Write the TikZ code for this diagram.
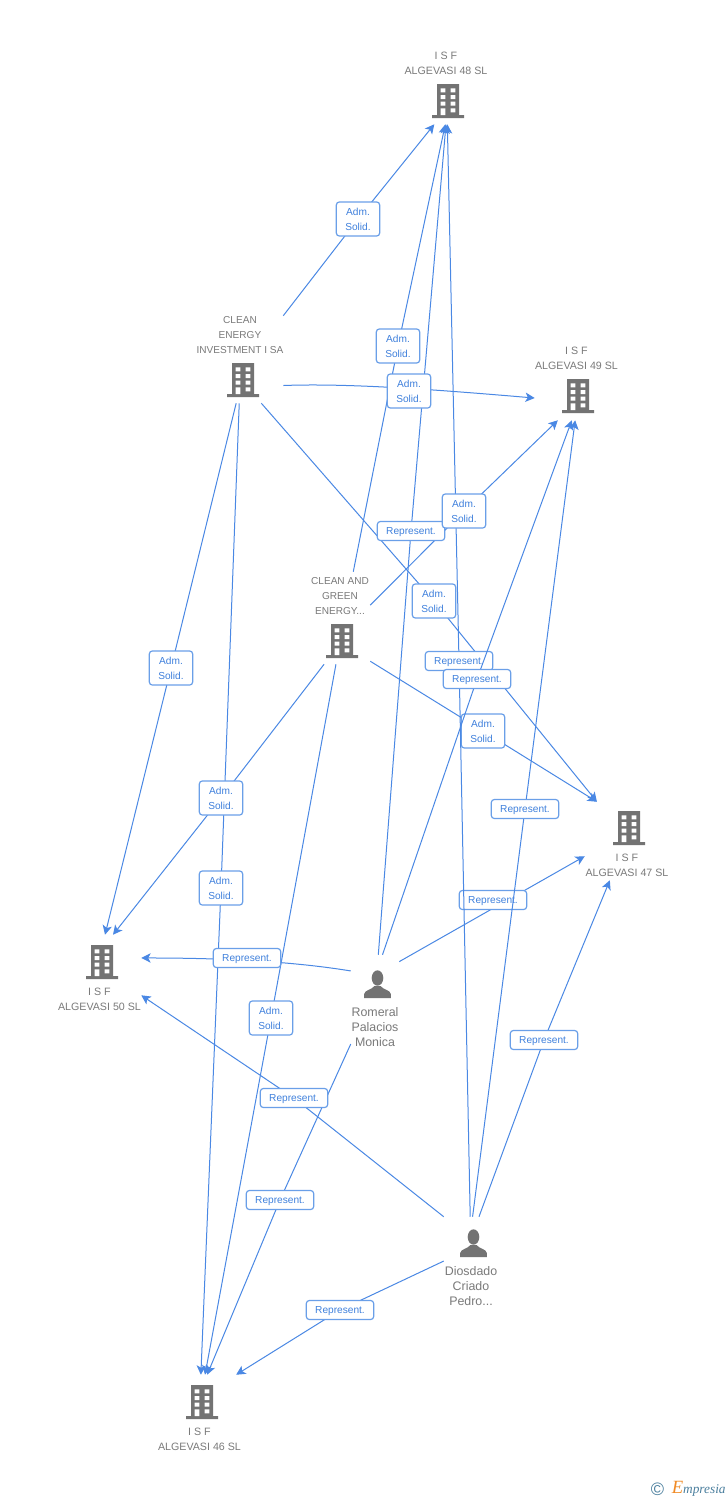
\documentclass[tikz,border=0pt]{standalone}
\usepackage{fontspec}
\setmainfont{Liberation Sans}
\newfontfamily\logofont{Liberation Serif}
\usetikzlibrary{arrows.meta}
\definecolor{linkblue}{HTML}{4A88E4}
\definecolor{tagblue}{HTML}{6A9FE8}
\definecolor{tagtext}{HTML}{3F80DC}
\definecolor{icongray}{HTML}{737373}
\definecolor{capgray}{HTML}{7A7A7A}
\definecolor{logoteal}{HTML}{4B7F9E}
\definecolor{logoorange}{HTML}{F08A24}
\tikzset{
entity/.style={rectangle, inner sep=0pt},
caption/.style={text=capgray, align=center, inner sep=0pt, font=\fontsize{8}{11.25}\selectfont},
smallcaption/.style={caption, font=\fontsize{7.55}{11.25}\selectfont},
bigcaption/.style={caption, font=\fontsize{9.3}{11.25}\selectfont},
tag/.style={draw=tagblue, line width=0.9pt, fill=white, text=tagtext, rounded corners=2.2pt,
  inner sep=0pt, align=center, font=\fontsize{7.6}{11.25}\selectfont},
adm/.style={tag, minimum width=32.5pt, minimum height=25.5pt},
rep/.style={tag, minimum width=50.5pt, minimum height=14.2pt, text depth=0pt},
link/.style={draw=linkblue, line width=0.75pt},
arrow/.style={link, -{Stealth[length=7pt,width=7pt,inset=1.8pt]}},
building/.pic={
  \fill[icongray] (-11,-17) rectangle (11,14) (-16,14) rectangle (16,17);
  \fill[white] (-7.3,-12.7) rectangle (-2.7,-8.7) (2.7,-12.7) rectangle (7.3,-8.7)
    (-7.3,-6) rectangle (-2.7,-2) (2.7,-6) rectangle (7.3,-2)
    (-7.3,0.7) rectangle (-2.7,4.7) (2.7,0.7) rectangle (7.3,4.7)
    (-7.3,7.3) rectangle (-2.7,14) (2.7,7.3) rectangle (7.3,11.3);
},
person/.pic={
  \fill[icongray] (0,-7) ellipse [x radius=5.8, y radius=7.7];
  \fill[icongray] (-13.3,13) -- (-13.3,9) .. controls (-13,5) and (-6,5) .. (-3,1)
    -- (3,1) .. controls (6,5) and (13,5) .. (13.3,9) -- (13.3,13) -- cycle;
},
}
\begin{document}
\begin{tikzpicture}[x=0.75pt,y=-0.75pt]
\useasboundingbox (0,0) rectangle (728,1500);
\fill[white] (0,0) rectangle (728,1500);
% boxes that the connectors stop at
\node[entity, minimum width=63pt, minimum height=57pt] (isfA) at (446,86) {};
\node[entity, minimum width=62.25pt, minimum height=57pt] (isfB) at (576.5,382) {};
\node[entity, minimum width=62.25pt, minimum height=58.5pt] (isfC) at (626.5,841) {};
\node[entity, minimum width=62.25pt, minimum height=58.5pt] (isfD) at (99.5,974) {};
\node[entity, minimum width=62.25pt, minimum height=58.5pt] (isfE) at (199.5,1414) {};
\node[entity, minimum width=64.5pt, minimum height=65.25pt] (cleanA) at (240,359.5) {};
\node[entity, minimum width=45pt, minimum height=69pt] (cleanB) at (340,618) {};
\node[entity, minimum width=36pt, minimum height=70.5pt] (romeral) at (375,1002) {};
\node[entity, minimum width=40.5pt, minimum height=67.5pt] (diosdado) at (471,1262) {};

\pic at (448,101) {building};
\pic at (578,396) {building};
\pic at (629,828) {building};
\pic at (102,962) {building};
\pic at (202,1402) {building};
\pic at (243,380) {building};
\pic at (342,641) {building};
\pic at (377.5,985) {person};
\pic at (473.5,1244) {person};

\node[caption] (capA) at (446,63.5) {I S F\\ALGEVASI 48 SL};
\node[caption] (capB) at (576.5,358.5) {I S F\\ALGEVASI 49 SL};
\node[caption] (capC) at (627,865) {I S F\\ALGEVASI 47 SL};
\node[caption] (capD) at (99.5,999.5) {I S F\\ALGEVASI 50 SL};
\node[caption] (capE) at (199.5,1439.5) {I S F\\ALGEVASI 46 SL};
\node[smallcaption] (capF) at (240,335) {CLEAN\\ENERGY\\INVESTMENT I SA};
\node[smallcaption] (capG) at (340,596) {CLEAN AND\\GREEN\\ENERGY...};
\node[bigcaption] (capH) at (375,1027) {Romeral\\Palacios\\Monica};
\node[bigcaption] (capI) at (471,1286) {Diosdado\\Criado\\Pedro...};

% where the tags sit
\coordinate (admA) at (358,219);
\coordinate (admB) at (398,346);
\coordinate (admD) at (464,511);
\coordinate (admE) at (434,601);
\coordinate (admF) at (483,731);
\coordinate (admG) at (171,668);
\coordinate (admH) at (221,798);
\coordinate (admI) at (221,888);
\coordinate (admJ) at (271,1018);
\coordinate (repA) at (411,531);
\coordinate (repB) at (459,661);
\coordinate (repC) at (477,679);
\coordinate (repD) at (525,809);
\coordinate (repG) at (294,1098);
\coordinate (repH) at (544,1040);
\coordinate (repI) at (280,1200);
\coordinate (repJ) at (340,1310);

% Adm. Solid.
\draw[link] (cleanA.north east) -- (admA);
\draw[arrow] (admA) -- (isfA.-107.5);
\draw[link] (cleanB.74) -- (admB);
\draw[arrow] (admB) -- (isfA.-91.5);
\draw[arrow] (cleanA.-31) .. controls (350,383) and (440,390) .. (isfB.-159);
\draw[link] (cleanB.23) -- (admD);
\draw[arrow] (admD) -- (isfB.-116);
\draw[link] (cleanA.-64) -- (admE);
\draw[arrow] (admE) -- (isfC.127);
\draw[link] (cleanB.-55) -- (admF);
\draw[arrow] (admF) -- (isfC.127);
\draw[link] (cleanA.-95) -- (admG);
\draw[arrow] (admG) -- (isfD.82);
\draw[link] (cleanA.-91) -- (admI);
\draw[arrow] (admI) -- (isfE.88);
\draw[link] (cleanB.-109) -- (admH);
\draw[arrow] (admH) -- (isfD.71);
\draw[link] (cleanB.-95) -- (admJ);
\draw[arrow] (admJ) -- (isfE.82);
% Represent.
\draw[link] (romeral.86) -- (repA);
\draw[arrow] (repA) -- (isfA.south);
\draw[arrow] (romeral.59) -- (isfC.-160);
\draw[arrow] (romeral.128) .. controls (290,961) and (220,958) .. (isfD.21);
\draw[link] (romeral.-120) -- (repI);
\draw[arrow] (repI) -- (isfE.79);
\draw[link] (diosdado.80) -- (repH);
\draw[arrow] (repH) -- (isfC.-113);
\draw[link] (diosdado.north west) -- (repG);
\draw[arrow] (repG) -- (isfD.-27);
\draw[link] (diosdado.178) -- (repJ);
\draw[arrow] (repJ) -- (isfE.47);

% tags
\node[adm] (tagA) at (admA) {Adm.\\Solid.};
\node[adm] (tagB) at (admB) {Adm.\\Solid.};
\node[adm] (tagC) at (409,391) {Adm.\\Solid.};
\node[adm] (tagE) at (admE) {Adm.\\Solid.};
\node[adm] (tagF) at (admF) {Adm.\\Solid.};
\node[adm] (tagG) at (admG) {Adm.\\Solid.};
\node[adm] (tagH) at (admH) {Adm.\\Solid.};
\node[adm] (tagI) at (admI) {Adm.\\Solid.};
\node[adm] (tagJ) at (admJ) {Adm.\\Solid.};
\node[rep] (tagK) at (repA) {Represent.};
\node[rep] (tagO) at (493,900) {Represent.};
\node[rep] (tagP) at (247,958) {Represent.};
\node[rep] (tagQ) at (repG) {Represent.};
\node[rep] (tagR) at (repH) {Represent.};
\node[rep] (tagS) at (repI) {Represent.};
\node[rep] (tagT) at (repJ) {Represent.};

% these run over the tags above
\draw[link] (diosdado.88.7) -- (repD);
\draw[arrow] (repD) -- (isfB.-92);
\draw[link] (diosdado.91) -- (repB);
\draw[arrow] (repB) -- (isfA.-88.5);
\node[rep] (tagL) at (repB) {Represent.};
\draw[link] (romeral.81.5) -- (repC);
\draw[arrow] (repC) -- (isfB.-97);
\node[rep] (tagM) at (repC) {Represent.};
\node[rep] (tagN) at (repD) {Represent.};
\node[adm] (tagD) at (admD) {Adm.\\Solid.};

% logo
\node[text=logoteal, inner sep=0pt, font=\fontsize{13.5}{14}\selectfont] (copyMark) at (657.5,1489) {©};
\node[text=logoteal, inner sep=0pt, anchor=west, font=\logofont\itshape\fontsize{10}{11}\selectfont] (logoText) at (671.5,1489)
  {\textcolor{logoorange}{\fontsize{14}{11}\selectfont E}mpresia};
\end{tikzpicture}
\end{document}
